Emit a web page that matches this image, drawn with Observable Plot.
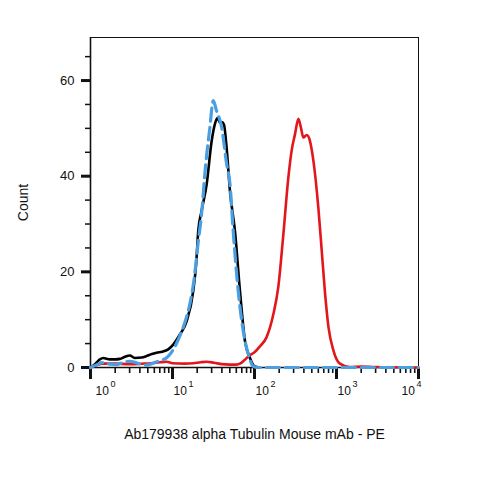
<!DOCTYPE html>
<html>
<head>
<meta charset="utf-8">
<script src="https://cdn.jsdelivr.net/npm/d3@7"></script>
<script src="https://cdn.jsdelivr.net/npm/@observablehq/plot@0.6"></script>
<style>
  html, body { margin: 0; padding: 0; background: #fff; }
  #chart { width: 479px; height: 479px; }
</style>
</head>
<body>
<div id="chart"></div>
<script>
// ---- data ----
const xTitle = "Ab179938 alpha Tubulin Mouse mAb - PE";
const yTitle = "Count";
const yMajorTicks = [0, 20, 40, 60];
const yMinorTicks = [5, 10, 15, 25, 30, 35, 45, 50, 55, 65];
const xExponents = [0, 1, 2, 3, 4];

const blackX = [1, 1.15, 1.3, 1.43, 1.72, 2.0, 2.28, 2.6, 3.02, 3.47, 4.2, 4.83, 5.6, 6.4, 7.5, 8.87, 10.2, 12.3, 14.9, 17.9, 19.5, 20.6, 22.6, 26.1, 30, 33, 35.5, 37.9, 40, 42.4, 45.7, 50.2, 57.8, 66.5, 76.6, 88, 101, 115];
const blackY = [0, 0.8, 1.7, 2.0, 1.7, 1.7, 1.8, 2.2, 2.5, 2.0, 2.1, 2.4, 2.8, 3.1, 3.3, 3.8, 4.8, 6.9, 9.7, 16, 22, 28.5, 32.7, 38.3, 47.3, 51, 52.2, 51.2, 51.3, 50.8, 46, 36.9, 28.5, 16, 5.5, 2, 0.2, 0];

const blueX = [1, 1.2, 1.4, 1.7, 2.1, 2.5, 3.0, 3.5, 4.2, 4.8, 5.8, 7, 8.4, 10, 12.3, 14.5, 16.3, 18.5, 20.5, 22.6, 25.4, 28.5, 31.4, 34.4, 39.8, 45.7, 50.2, 55, 63.3, 72.9, 84, 96, 110, 1000, 10000];
const blueY = [0, 0.6, 1.0, 0.7, 0.6, 1.1, 1.3, 1.1, 0.6, 0.5, 0.9, 1.4, 2.0, 3.5, 6.6, 10, 13.3, 19, 26, 32, 42.5, 50, 55.8, 53.7, 50.2, 42.6, 38.4, 28.5, 16, 7.6, 2.8, 0.3, 0, 0, 0];

const redX = [1, 1.2, 1.4, 2, 3, 4.2, 5.5, 7, 8.5, 10, 14, 18, 22, 26, 32, 40, 50, 60, 66.5, 75, 88, 100, 116, 140, 170, 195, 225, 259, 284, 312, 343, 370, 394, 434, 474, 522, 600, 660, 726, 799, 916, 1100, 1450, 2000, 3000, 10000];
const redY = [0, 0.5, 0.8, 0.8, 0.7, 0.8, 0.9, 1.1, 1.2, 0.9, 0.8, 0.9, 1.1, 1.2, 1.0, 0.7, 0.6, 0.6, 0.8, 1.5, 2.6, 3.2, 4.4, 6.3, 11.2, 16.8, 27.9, 39.8, 45.4, 48.8, 52.0, 50, 48.1, 48.6, 47.4, 43.3, 33.5, 24.5, 15.4, 8.4, 3.6, 0.8, 0.1, 0.2, 0.1, 0];

// ---- build tables ----
const toRows = (xs, ys) => xs.map((x, i) => ({x, y: ys[i]}));
const black = toRows(blackX, blackY);
const blue = toRows(blueX, blueY);
const red = toRows(redX, redY);

const xMajor = xExponents.map(e => Math.pow(10, e));
const xMinor = [];
for (const e of xExponents.slice(0, -1)) for (let m = 2; m <= 9; m++) xMinor.push(m * Math.pow(10, e));
const xLabels = xExponents.map(e => ({v: Math.pow(10, e), e: String(e)}));
const firstL = xLabels.slice(0, 1), midL = xLabels.slice(1, -1), lastL = xLabels.slice(-1);

const font = "'Liberation Sans', Arial, Helvetica, sans-serif";
const ink = "#111";

function expLabel(data, dxBase) {
  return [
    Plot.text(data, {x: "v", text: () => "10", frameAnchor: "bottom", textAnchor: "start", dx: dxBase, dy: 27, fontSize: 12, fill: ink}),
    Plot.text(data, {x: "v", text: "e", frameAnchor: "bottom", textAnchor: "start", dx: dxBase + 15, dy: 19, fontSize: 9, fill: ink})
  ];
}

const chart = Plot.plot({
  width: 479,
  height: 479,
  marginLeft: 90,
  marginRight: 61,
  marginTop: 37,
  marginBottom: 112,
  style: {fontFamily: font, background: "#fff", color: ink},
  x: {type: "log", domain: [1, 10000], axis: null},
  y: {domain: [0, 69], axis: null},
  marks: [
    Plot.frame({stroke: ink, strokeWidth: 1}),
    Plot.ruleX([1], {stroke: ink, strokeWidth: 1.6}),
    Plot.ruleY([0], {stroke: ink, strokeWidth: 1.6}),
    Plot.axisY(yMinorTicks, {tickSize: 5, strokeWidth: 1.5, tickFormat: () => "", stroke: ink, label: null}),
    Plot.axisY(yMajorTicks, {tickSize: 9, strokeWidth: 3, tickPadding: 7, fontSize: 13, stroke: ink, fill: ink,
      label: yTitle, labelAnchor: "center", labelOffset: 72, labelArrow: "none"}),
    Plot.axisX(xMinor, {tickSize: 6, strokeWidth: 1.6, tickFormat: () => "", stroke: ink, label: null}),
    Plot.axisX(xMajor, {tickSize: 12, strokeWidth: 3, tickFormat: () => "", stroke: ink,
      label: xTitle, labelAnchor: "center", labelOffset: 71, labelArrow: "none"}),
    ...expLabel(firstL, 5),
    ...expLabel(midL, 1),
    ...expLabel(lastL, -17),
    Plot.line(black, {x: "x", y: "y", stroke: "#000", strokeWidth: 2.6, curve: "monotone-x"}),
    Plot.line(red, {x: "x", y: "y", stroke: "#e3161c", strokeWidth: 2.6, curve: "monotone-x"}),
    Plot.line(blue, {x: "x", y: "y", stroke: "#4a9fe3", strokeWidth: 3.2, strokeDasharray: "13,6", curve: "monotone-x"})
  ]
});
chart.querySelectorAll("g[aria-label='y-axis label'] text, g[aria-label='x-axis label'] text").forEach(t => t.setAttribute("font-size", "14"));
document.getElementById("chart").appendChild(chart);
</script>
</body>
</html>
